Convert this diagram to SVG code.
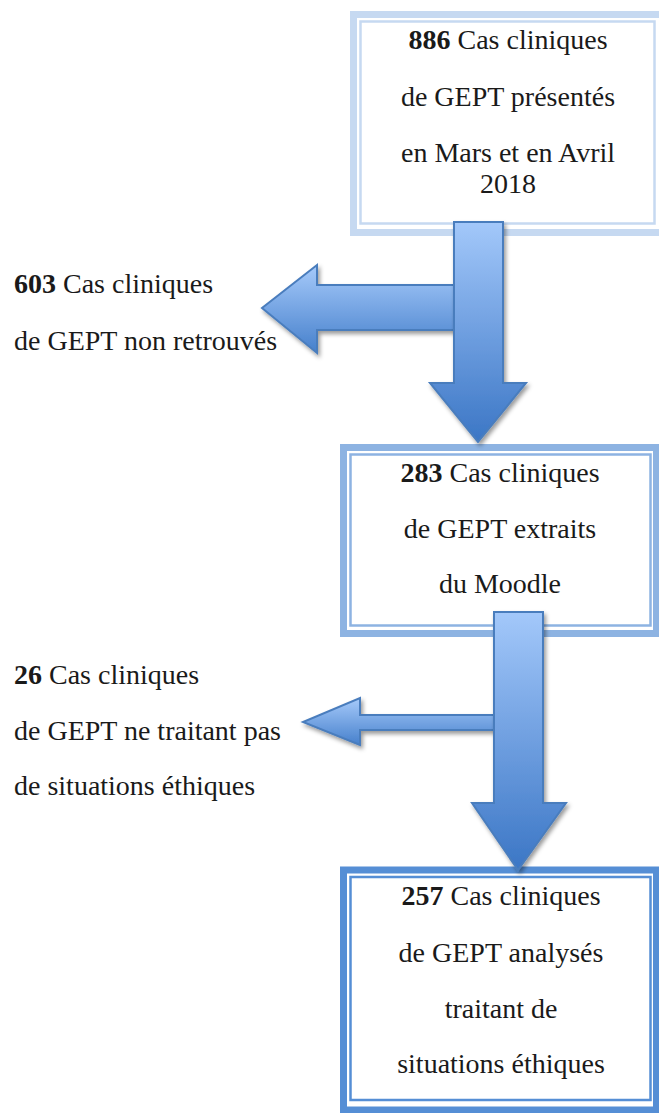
<svg xmlns="http://www.w3.org/2000/svg" width="659" height="1113" viewBox="0 0 659 1113">
<style>
text{font-family:'Liberation Serif','Tinos','DejaVu Serif',serif;font-size:28px;fill:#1a1a1a}
.b{font-weight:bold}
.c{text-anchor:middle}
.arrow{stroke:#4a7dbd;stroke-width:2;stroke-linejoin:miter}
</style>
<defs>
<linearGradient id="gDown" x1="0" y1="0" x2="0" y2="1">
<stop offset="0" stop-color="#a3c8fa"/>
<stop offset="0.5" stop-color="#6f9fe0"/>
<stop offset="1" stop-color="#3b76c5"/>
</linearGradient>
<linearGradient id="gLeft" x1="0" y1="0" x2="0" y2="1">
<stop offset="0" stop-color="#a6cafa"/>
<stop offset="1" stop-color="#4680cc"/>
</linearGradient>
<filter id="sh" x="-20%" y="-20%" width="150%" height="150%">
<feDropShadow dx="2" dy="3" stdDeviation="2.2" flood-color="#000" flood-opacity="0.4"/>
</filter>
</defs>

<g id="box1">
<rect x="353.5" y="14.5" width="309" height="218" fill="#fff" stroke="#c6d9f1" stroke-width="7"/>
<rect x="360.5" y="21.5" width="294" height="202" fill="none" stroke="#c6d9f1" stroke-width="2.5"/>
<text class="c" x="508" y="49" font-family="Liberation Serif, serif"><tspan class="b">886</tspan> Cas cliniques</text>
<text class="c" x="508" y="106">de GEPT présentés</text>
<text class="c" x="508" y="162">en Mars et en Avril</text>
<text class="c" x="508" y="193">2018</text>
</g>

<g id="box2">
<rect x="343.5" y="447.5" width="313" height="186" fill="#fff" stroke="#8db3e2" stroke-width="7"/>
<rect x="350.5" y="454.5" width="300" height="171" fill="none" stroke="#8db3e2" stroke-width="2.5"/>
<text class="c" x="500" y="482"><tspan class="b">283</tspan> Cas cliniques</text>
<text class="c" x="500" y="538">de GEPT extraits</text>
<text class="c" x="500" y="593">du Moodle</text>
</g>

<g id="box3">
<rect x="343.5" y="870" width="313" height="240" fill="#fff" stroke="#558ed5" stroke-width="7"/>
<rect x="350.5" y="877" width="300" height="223" fill="none" stroke="#558ed5" stroke-width="2.5"/>
<text class="c" x="501" y="905"><tspan class="b">257</tspan> Cas cliniques</text>
<text class="c" x="501" y="962">de GEPT analysés</text>
<text class="c" x="501" y="1018">traitant de</text>
<text class="c" x="501" y="1073">situations éthiques</text>
</g>

<g id="label1">
<text x="14" y="293"><tspan class="b">603</tspan> Cas cliniques</text>
<text x="14" y="350">de GEPT non retrouvés</text>
</g>

<g id="label2">
<text x="14" y="684"><tspan class="b">26</tspan> Cas cliniques</text>
<text x="14" y="740">de GEPT ne traitant pas</text>
<text x="14" y="795">de situations éthiques</text>
</g>

<g id="connectors">
<path class="arrow" filter="url(#sh)" fill="url(#gLeft)" d="M458,285 L317,285 L317,265 L262,308 L317,353 L317,330 L458,330 Z"/>
<path class="arrow" filter="url(#sh)" fill="url(#gDown)" d="M454,222 L503,222 L503,383 L526,383 L478,442 L430,383 L454,383 Z"/>
<path class="arrow" filter="url(#sh)" fill="url(#gLeft)" d="M497,715 L360,715 L360,698 L303,722 L360,745 L360,730 L497,730 Z"/>
<path class="arrow" filter="url(#sh)" fill="url(#gDown)" d="M494,612 L543,612 L543,803 L566,803 L518,870 L472,803 L494,803 Z"/>
</g>
</svg>
